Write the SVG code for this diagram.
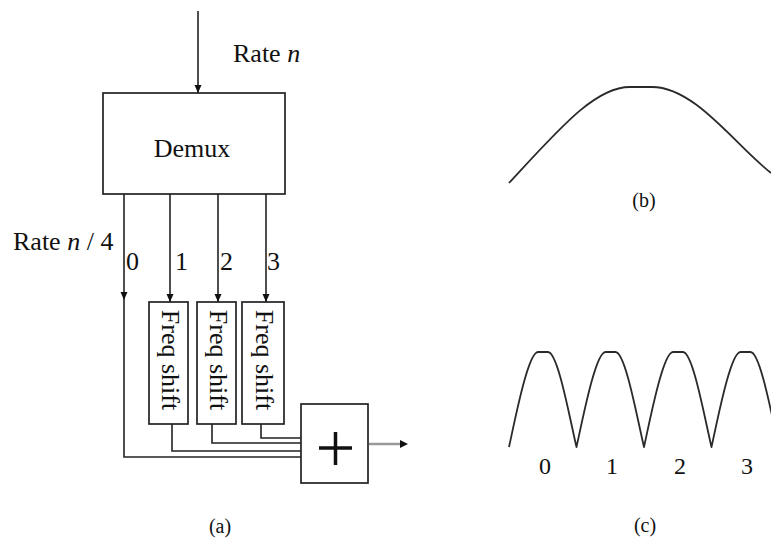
<svg xmlns="http://www.w3.org/2000/svg" width="771" height="542" viewBox="0 0 771 542">
<defs>
<style>
.box{fill:#fff;stroke:#222;stroke-width:1.7}
.ln{fill:none;stroke:#222;stroke-width:1.6}
.t{font-family:"Liberation Serif","Times New Roman",serif;fill:#111}
.big{font-size:26px}
.cap{font-size:20px}
.crv{fill:none;stroke:#2a2a2a;stroke-width:1.8;stroke-linejoin:round}
</style>
<marker id="ah" markerUnits="userSpaceOnUse" markerWidth="9" markerHeight="8" refX="8" refY="3.5" orient="auto">
<path d="M0 0 L8 3.5 L0 7 z" fill="#111"/>
</marker>
</defs>
<rect width="771" height="542" fill="#fff"/>

<g id="connectors">
<path class="ln" d="M198 11 V93" marker-end="url(#ah)"/>
<path class="ln" d="M124 194 V300" marker-end="url(#ah)"/>
<path class="ln" d="M124 300 V457 H301"/>
<path class="ln" d="M170 194 V302" marker-end="url(#ah)"/>
<path class="ln" d="M218 194 V302" marker-end="url(#ah)"/>
<path class="ln" d="M266 194 V302" marker-end="url(#ah)"/>
<path class="ln" d="M172 424 V451 H301"/>
<path class="ln" d="M212 424 V443 H301"/>
<path class="ln" d="M261 424 V438 H301"/>
<path d="M369 444 H401" stroke="#999" stroke-width="2.5" fill="none"/>
<path d="M400 440 L408 444 L400 448 z" fill="#111"/>
</g>

<g id="labels-a">
<text class="t big" x="233" y="62">Rate <tspan font-style="italic">n</tspan></text>
<text class="t big" x="13" y="250">Rate <tspan font-style="italic">n</tspan> / 4</text>
<text class="t big" x="126" y="270">0</text>
<text class="t big" x="175" y="270">1</text>
<text class="t big" x="220" y="270">2</text>
<text class="t big" x="267" y="270">3</text>
<text class="t cap" x="220" y="533" text-anchor="middle">(a)</text>
</g>

<g id="demux">
<rect class="box" x="103" y="93" width="182" height="101"/>
<text class="t big" x="192" y="157" text-anchor="middle">Demux</text>
</g>

<g id="freq1">
<rect class="box" x="149" y="302" width="39" height="122"/>
<text class="t big" transform="translate(162 360) rotate(90)" text-anchor="middle">Freq shift</text>
</g>
<g id="freq2">
<rect class="box" x="197" y="302" width="39" height="122"/>
<text class="t big" transform="translate(210 360) rotate(90)" text-anchor="middle">Freq shift</text>
</g>
<g id="freq3">
<rect class="box" x="242" y="302" width="42" height="122"/>
<text class="t big" transform="translate(256 360) rotate(90)" text-anchor="middle">Freq shift</text>
</g>

<g id="sum">
<rect class="box" x="301" y="404" width="67" height="79"/>
<path d="M319 448 H352 M335.5 432 V465" stroke="#111" stroke-width="3.5" fill="none"/>
</g>

<g id="spectrum-b">
<path class="crv" d="M509 183 C560 128 595 87 630 87 L652 87 C695 87 735 145 771 173"/>
<text class="t cap" x="644" y="207" text-anchor="middle">(b)</text>
</g>

<g id="spectrum-c">
<path class="crv" d="M509 447 C515 420 528 352 538 352 L548 352 C558 352 570 420 576.5 447
C582.5 420 595.5 352 605.5 352 L615.5 352 C625.5 352 637.5 420 644 447
C650 420 663 352 673 352 L683 352 C693 352 705 420 711.5 447
C717.5 420 730.5 352 740.5 352 L750.5 352 C760.5 352 772.5 420 779 447"/>
<text class="t" font-size="24" x="545" y="474" text-anchor="middle">0</text>
<text class="t" font-size="24" x="612" y="474" text-anchor="middle">1</text>
<text class="t" font-size="24" x="680" y="474" text-anchor="middle">2</text>
<text class="t" font-size="24" x="747" y="474" text-anchor="middle">3</text>
<text class="t cap" x="645" y="532" text-anchor="middle">(c)</text>
</g>
</svg>
